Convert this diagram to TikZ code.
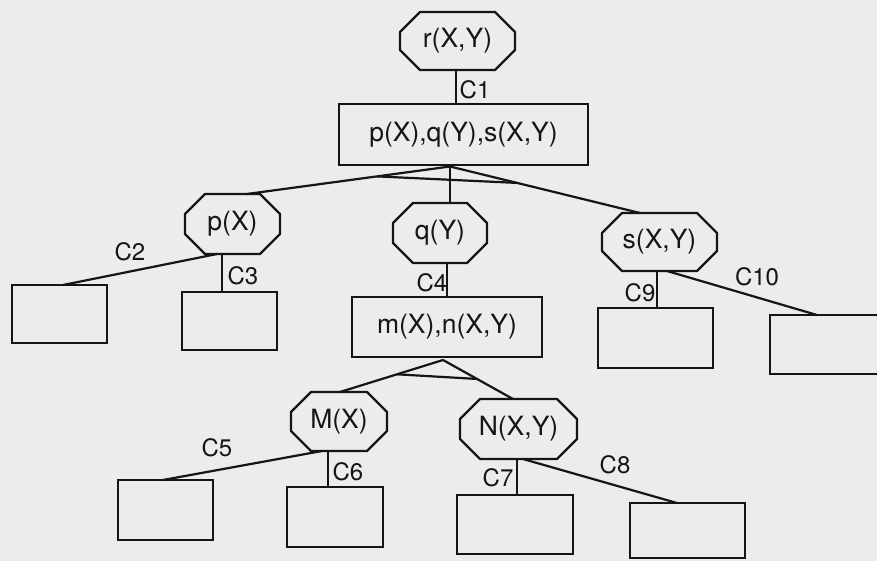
\documentclass[tikz,border=0pt]{standalone}
\usepackage{fontspec}
\setmainfont{TeX Gyre Heros}
\usetikzlibrary{calc}
\definecolor{ink}{HTML}{151515}
\definecolor{paper}{HTML}{ECECEC}
\newcommand\myoct[1]{%
  \draw[thickline] ([xshift=20pt]#1.north west) -- ([xshift=-20pt]#1.north east)
    -- ([yshift=-20pt]#1.north east) -- ([yshift=20pt]#1.south east)
    -- ([xshift=-20pt]#1.south east) -- ([xshift=20pt]#1.south west)
    -- ([yshift=20pt]#1.south west) -- ([yshift=-20pt]#1.north west) -- cycle;}
\begin{document}
\begin{tikzpicture}[x=1pt,y=-1pt,
  thickline/.style={draw=ink,line width=2.2pt,line join=round},
  thinline/.style={draw=ink,line width=1.3pt},
  textnode/.style={inner sep=0pt,outer sep=0pt,text=ink,font=\fontsize{26.5}{31}\selectfont},
  boxnode/.style={textnode,draw=ink,line width=2.2pt},
  octnode/.style={textnode},
  lab/.style={inner sep=0pt,text=ink,font=\fontsize{24}{28}\selectfont}]
\useasboundingbox (0,0) rectangle (877,561);
\clip (0,0) rectangle (877,561);
\fill[paper] (0,0) rectangle (877,561);

% octagon nodes
\node[octnode,minimum width=115pt,minimum height=58pt] (r) at (457.5,41) {r(X,Y)};
\node[octnode,minimum width=95pt,minimum height=60pt] (p) at (232.5,224) {p(X)};
\node[octnode,minimum width=94pt,minimum height=60pt] (q) at (440,233) {q(Y)};
\node[octnode,minimum width=115pt,minimum height=58pt] (s) at (659.5,242) {s(X,Y)};
\node[octnode,minimum width=96pt,minimum height=59pt] (M) at (339,421.5) {M(X)};
\node[octnode,minimum width=117pt,minimum height=60pt] (N) at (518.5,429) {N(X,Y)};
\myoct{r}\myoct{p}\myoct{q}\myoct{s}\myoct{M}\myoct{N}

% box nodes
\node[boxnode,minimum width=249pt,minimum height=61pt] (top) at (463.5,134.5) {p(X),q(Y),s(X,Y)};
\node[boxnode,minimum width=190pt,minimum height=60pt] (mn) at (447,327) {m(X),n(X,Y)};
\node[boxnode,minimum width=95pt,minimum height=58pt] (b1) at (59.5,314) {};
\node[boxnode,minimum width=95pt,minimum height=58pt] (b2) at (229.5,321) {};
\node[boxnode,minimum width=115pt,minimum height=60pt] (b9) at (655.5,338) {};
\node[boxnode,minimum width=115pt,minimum height=59pt] (b10) at (827.5,344.5) {};
\node[boxnode,minimum width=95pt,minimum height=60pt] (b5) at (165.5,510) {};
\node[boxnode,minimum width=96pt,minimum height=60pt] (b6) at (335,517) {};
\node[boxnode,minimum width=116pt,minimum height=59pt] (b7) at (515,524.5) {};
\node[boxnode,minimum width=115pt,minimum height=55pt] (b8) at (687.5,530.5) {};

% C1
\draw[thinline] ([xshift=-1.5pt]r.south) -- ([xshift=-1.5pt]r.south |- top.north);

% AND node under top box
\coordinate (a1) at ($(top.south)+(-13.5,1.5)$);
\coordinate (pt1) at ([xshift=14.5pt]p.north);
\coordinate (st1) at ([xshift=-19.5pt]s.north);
\draw[thickline] (a1) -- (pt1);
\draw[thickline] (a1) -- (st1);
\draw[thinline] (a1) -- (a1 |- q.north);
\draw[thickline] ($(a1)!0.36!(pt1)$) -- ($(a1)!0.353!(st1)$);

% children of p
\draw[thickline] ([xshift=-15.5pt]p.south) -- ([xshift=3.5pt]b1.north);
\draw[thinline] ([xshift=-10.5pt]p.south) -- ([xshift=-10.5pt]p.south |- b2.north);

% q to mn
\draw[thinline] (mn.north) -- (mn.north |- q.south);

% AND node under mn
\coordinate (a2) at ($(mn.south)+(-4,3)$);
\coordinate (Mt) at ([xshift=1pt]M.north);
\coordinate (Nt) at ([xshift=-5.5pt]N.north);
\draw[thickline] (a2) -- (Mt);
\draw[thickline] (a2) -- (Nt);
\draw[thickline] ($(a2)!0.447!(Mt)$) -- ($(a2)!0.486!(Nt)$);

% children of s
\draw[thinline] ([xshift=-2.5pt]s.south) -- ([xshift=-2.5pt]s.south |- b9.north);
\draw[thickline] ([xshift=7.5pt]s.south) -- ([xshift=-10.5pt]b10.north);

% children of M
\draw[thickline] ([xshift=-17pt]M.south) -- ([xshift=-2.5pt]b5.north);
\draw[thinline] ([xshift=-11pt]M.south) -- ([xshift=-11pt]M.south |- b6.north);

% children of N
\draw[thinline] ([xshift=-1.5pt]N.south) -- ([xshift=-1.5pt]N.south |- b7.north);
\draw[thickline] ([xshift=4.5pt]N.south) -- ([xshift=-10.5pt]b8.north);

% labels
\node[lab] (l1) at (475,90) {C1};
\node[lab] (l2) at (130,252) {C2};
\node[lab] (l3) at (243,276) {C3};
\node[lab] (l4) at (432,283) {C4};
\node[lab] (l5) at (217,448) {C5};
\node[lab] (l6) at (348,472) {C6};
\node[lab] (l7) at (498,478) {C7};
\node[lab] (l8) at (615,465) {C8};
\node[lab] (l9) at (640,293) {C9};
\node[lab] (l10) at (757,277) {C10};
\end{tikzpicture}
\end{document}
